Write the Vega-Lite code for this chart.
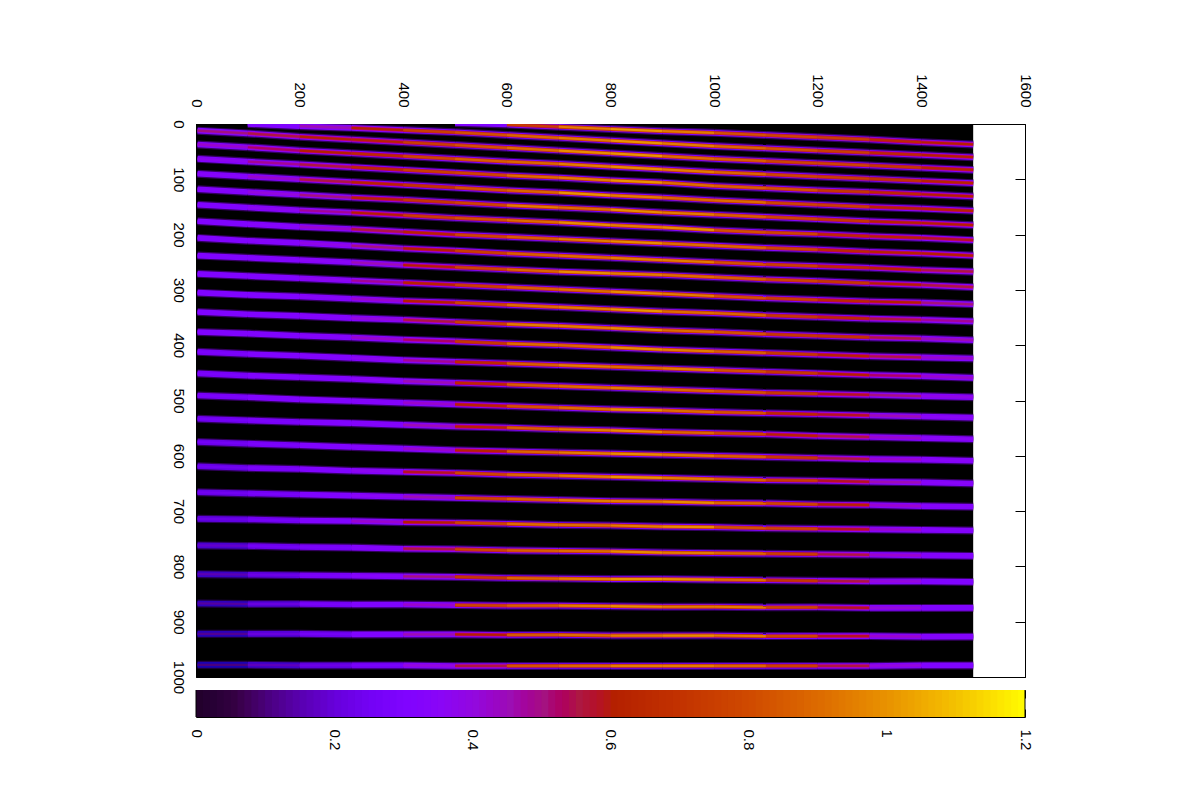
{"background":"white","bounds":"flush","padding":{"left":170,"top":73,"right":10,"bottom":10},"config":{"font":"Liberation Sans","view":{"stroke":null},"axis":{"grid":false,"title":null,"domainColor":"black","tickColor":"black","labelColor":"black","labelFont":"Liberation Sans","labelFontSize":15,"zindex":1,"domainWidth":1,"tickWidth":1}},"datasets":{"orders":[
{"o":1,"x":3,"y":12,"v":0.5},{"o":1,"x":100,"y":17,"v":0.55},{"o":1,"x":200,"y":23,"v":0.6},{"o":1,"x":300,"y":28,"v":0.62},{"o":1,"x":400,"y":33,"v":0.75},{"o":1,"x":500,"y":38,"v":0.82},{"o":1,"x":600,"y":43,"v":0.9},{"o":1,"x":700,"y":48,"v":0.98},{"o":1,"x":800,"y":53,"v":1},{"o":1,"x":900,"y":58,"v":0.9},{"o":1,"x":1000,"y":63,"v":0.86},{"o":1,"x":1100,"y":67,"v":0.78},{"o":1,"x":1200,"y":71,"v":0.78},{"o":1,"x":1300,"y":75,"v":0.72},{"o":1,"x":1400,"y":79,"v":0.62},{"o":1,"x":1500,"y":83,"v":0.58},
{"o":2,"x":3,"y":37,"v":0.42},{"o":2,"x":100,"y":42,"v":0.52},{"o":2,"x":200,"y":48,"v":0.6},{"o":2,"x":300,"y":53,"v":0.65},{"o":2,"x":400,"y":58,"v":0.78},{"o":2,"x":500,"y":63,"v":0.86},{"o":2,"x":600,"y":68,"v":0.88},{"o":2,"x":700,"y":72,"v":0.94},{"o":2,"x":800,"y":77,"v":0.98},{"o":2,"x":900,"y":82,"v":0.94},{"o":2,"x":1000,"y":87,"v":0.88},{"o":2,"x":1100,"y":91,"v":0.78},{"o":2,"x":1200,"y":95,"v":0.75},{"o":2,"x":1300,"y":99,"v":0.7},{"o":2,"x":1400,"y":103,"v":0.62},{"o":2,"x":1500,"y":107,"v":0.58},
{"o":3,"x":3,"y":63,"v":0.36},{"o":3,"x":100,"y":68,"v":0.48},{"o":3,"x":200,"y":73,"v":0.55},{"o":3,"x":300,"y":78,"v":0.65},{"o":3,"x":400,"y":83,"v":0.75},{"o":3,"x":500,"y":88,"v":0.78},{"o":3,"x":600,"y":93,"v":0.9},{"o":3,"x":700,"y":97,"v":0.94},{"o":3,"x":800,"y":102,"v":1},{"o":3,"x":900,"y":106,"v":0.9},{"o":3,"x":1000,"y":112,"v":0.86},{"o":3,"x":1100,"y":116,"v":0.82},{"o":3,"x":1200,"y":120,"v":0.72},{"o":3,"x":1300,"y":123,"v":0.65},{"o":3,"x":1400,"y":127,"v":0.6},{"o":3,"x":1500,"y":131,"v":0.55},
{"o":4,"x":3,"y":90,"v":0.33},{"o":4,"x":100,"y":95,"v":0.42},{"o":4,"x":200,"y":100,"v":0.55},{"o":4,"x":300,"y":105,"v":0.62},{"o":4,"x":400,"y":110,"v":0.7},{"o":4,"x":500,"y":115,"v":0.82},{"o":4,"x":600,"y":120,"v":0.88},{"o":4,"x":700,"y":124,"v":1},{"o":4,"x":800,"y":129,"v":0.94},{"o":4,"x":900,"y":133,"v":0.88},{"o":4,"x":1000,"y":138,"v":0.9},{"o":4,"x":1100,"y":142,"v":0.78},{"o":4,"x":1200,"y":146,"v":0.75},{"o":4,"x":1300,"y":150,"v":0.62},{"o":4,"x":1400,"y":153,"v":0.62},{"o":4,"x":1500,"y":157,"v":0.55},
{"o":5,"x":3,"y":118,"v":0.32},{"o":5,"x":100,"y":123,"v":0.4},{"o":5,"x":200,"y":128,"v":0.5},{"o":5,"x":300,"y":133,"v":0.62},{"o":5,"x":400,"y":137,"v":0.72},{"o":5,"x":500,"y":142,"v":0.78},{"o":5,"x":600,"y":147,"v":0.94},{"o":5,"x":700,"y":151,"v":0.9},{"o":5,"x":800,"y":155,"v":0.98},{"o":5,"x":900,"y":160,"v":0.94},{"o":5,"x":1000,"y":164,"v":0.86},{"o":5,"x":1100,"y":168,"v":0.78},{"o":5,"x":1200,"y":172,"v":0.72},{"o":5,"x":1300,"y":176,"v":0.62},{"o":5,"x":1400,"y":179,"v":0.6},{"o":5,"x":1500,"y":183,"v":0.55},
{"o":6,"x":3,"y":146,"v":0.3},{"o":6,"x":100,"y":151,"v":0.36},{"o":6,"x":200,"y":156,"v":0.48},{"o":6,"x":300,"y":160,"v":0.6},{"o":6,"x":400,"y":165,"v":0.75},{"o":6,"x":500,"y":170,"v":0.82},{"o":6,"x":600,"y":174,"v":0.9},{"o":6,"x":700,"y":178,"v":0.98},{"o":6,"x":800,"y":183,"v":0.94},{"o":6,"x":900,"y":187,"v":0.98},{"o":6,"x":1000,"y":192,"v":0.82},{"o":6,"x":1100,"y":196,"v":0.78},{"o":6,"x":1200,"y":199,"v":0.65},{"o":6,"x":1300,"y":203,"v":0.62},{"o":6,"x":1400,"y":206,"v":0.58},{"o":6,"x":1500,"y":210,"v":0.5},
{"o":7,"x":3,"y":176,"v":0.3},{"o":7,"x":100,"y":181,"v":0.33},{"o":7,"x":200,"y":186,"v":0.42},{"o":7,"x":300,"y":190,"v":0.55},{"o":7,"x":400,"y":195,"v":0.62},{"o":7,"x":500,"y":200,"v":0.78},{"o":7,"x":600,"y":204,"v":0.86},{"o":7,"x":700,"y":208,"v":0.94},{"o":7,"x":800,"y":212,"v":0.98},{"o":7,"x":900,"y":216,"v":0.9},{"o":7,"x":1000,"y":220,"v":0.88},{"o":7,"x":1100,"y":224,"v":0.78},{"o":7,"x":1200,"y":227,"v":0.65},{"o":7,"x":1300,"y":231,"v":0.62},{"o":7,"x":1400,"y":234,"v":0.6},{"o":7,"x":1500,"y":238,"v":0.48},
{"o":8,"x":3,"y":206,"v":0.3},{"o":8,"x":100,"y":211,"v":0.32},{"o":8,"x":200,"y":215,"v":0.38},{"o":8,"x":300,"y":220,"v":0.5},{"o":8,"x":400,"y":225,"v":0.6},{"o":8,"x":500,"y":229,"v":0.75},{"o":8,"x":600,"y":234,"v":0.86},{"o":8,"x":700,"y":238,"v":0.9},{"o":8,"x":800,"y":242,"v":0.94},{"o":8,"x":900,"y":246,"v":0.94},{"o":8,"x":1000,"y":250,"v":0.82},{"o":8,"x":1100,"y":254,"v":0.75},{"o":8,"x":1200,"y":257,"v":0.65},{"o":8,"x":1300,"y":260,"v":0.62},{"o":8,"x":1400,"y":264,"v":0.55},{"o":8,"x":1500,"y":267,"v":0.42},
{"o":9,"x":3,"y":238,"v":0.3},{"o":9,"x":100,"y":242,"v":0.31},{"o":9,"x":200,"y":246,"v":0.35},{"o":9,"x":300,"y":250,"v":0.45},{"o":9,"x":400,"y":255,"v":0.6},{"o":9,"x":500,"y":259,"v":0.78},{"o":9,"x":600,"y":263,"v":0.88},{"o":9,"x":700,"y":267,"v":0.98},{"o":9,"x":800,"y":270,"v":0.94},{"o":9,"x":900,"y":273,"v":0.9},{"o":9,"x":1000,"y":277,"v":0.86},{"o":9,"x":1100,"y":281,"v":0.78},{"o":9,"x":1200,"y":284,"v":0.72},{"o":9,"x":1300,"y":288,"v":0.6},{"o":9,"x":1400,"y":291,"v":0.55},{"o":9,"x":1500,"y":295,"v":0.4},
{"o":10,"x":3,"y":271,"v":0.3},{"o":10,"x":100,"y":275,"v":0.3},{"o":10,"x":200,"y":279,"v":0.36},{"o":10,"x":300,"y":283,"v":0.48},{"o":10,"x":400,"y":287,"v":0.62},{"o":10,"x":500,"y":291,"v":0.75},{"o":10,"x":600,"y":295,"v":0.86},{"o":10,"x":700,"y":299,"v":0.9},{"o":10,"x":800,"y":303,"v":0.98},{"o":10,"x":900,"y":307,"v":0.94},{"o":10,"x":1000,"y":311,"v":0.82},{"o":10,"x":1100,"y":315,"v":0.75},{"o":10,"x":1200,"y":318,"v":0.65},{"o":10,"x":1300,"y":321,"v":0.6},{"o":10,"x":1400,"y":323,"v":0.5},{"o":10,"x":1500,"y":326,"v":0.38},
{"o":11,"x":3,"y":305,"v":0.3},{"o":11,"x":100,"y":309,"v":0.3},{"o":11,"x":200,"y":312,"v":0.33},{"o":11,"x":300,"y":316,"v":0.42},{"o":11,"x":400,"y":320,"v":0.6},{"o":11,"x":500,"y":323,"v":0.78},{"o":11,"x":600,"y":327,"v":0.9},{"o":11,"x":700,"y":331,"v":0.94},{"o":11,"x":800,"y":335,"v":1},{"o":11,"x":900,"y":339,"v":0.9},{"o":11,"x":1000,"y":342,"v":0.88},{"o":11,"x":1100,"y":346,"v":0.72},{"o":11,"x":1200,"y":349,"v":0.65},{"o":11,"x":1300,"y":352,"v":0.55},{"o":11,"x":1400,"y":354,"v":0.48},{"o":11,"x":1500,"y":357,"v":0.36},
{"o":12,"x":3,"y":340,"v":0.3},{"o":12,"x":100,"y":344,"v":0.3},{"o":12,"x":200,"y":347,"v":0.32},{"o":12,"x":300,"y":351,"v":0.4},{"o":12,"x":400,"y":354,"v":0.55},{"o":12,"x":500,"y":358,"v":0.75},{"o":12,"x":600,"y":362,"v":0.94},{"o":12,"x":700,"y":365,"v":0.94},{"o":12,"x":800,"y":369,"v":0.98},{"o":12,"x":900,"y":373,"v":0.9},{"o":12,"x":1000,"y":376,"v":0.82},{"o":12,"x":1100,"y":380,"v":0.72},{"o":12,"x":1200,"y":383,"v":0.7},{"o":12,"x":1300,"y":386,"v":0.55},{"o":12,"x":1400,"y":388,"v":0.45},{"o":12,"x":1500,"y":391,"v":0.34},
{"o":13,"x":3,"y":376,"v":0.3},{"o":13,"x":100,"y":379,"v":0.3},{"o":13,"x":200,"y":383,"v":0.32},{"o":13,"x":300,"y":386,"v":0.42},{"o":13,"x":400,"y":390,"v":0.52},{"o":13,"x":500,"y":393,"v":0.72},{"o":13,"x":600,"y":397,"v":0.9},{"o":13,"x":700,"y":400,"v":0.88},{"o":13,"x":800,"y":404,"v":0.98},{"o":13,"x":900,"y":408,"v":0.94},{"o":13,"x":1000,"y":411,"v":0.86},{"o":13,"x":1100,"y":414,"v":0.72},{"o":13,"x":1200,"y":417,"v":0.62},{"o":13,"x":1300,"y":420,"v":0.55},{"o":13,"x":1400,"y":422,"v":0.42},{"o":13,"x":1500,"y":424,"v":0.33},
{"o":14,"x":3,"y":412,"v":0.28},{"o":14,"x":100,"y":416,"v":0.3},{"o":14,"x":200,"y":419,"v":0.31},{"o":14,"x":300,"y":423,"v":0.36},{"o":14,"x":400,"y":427,"v":0.48},{"o":14,"x":500,"y":430,"v":0.65},{"o":14,"x":600,"y":433,"v":0.86},{"o":14,"x":700,"y":436,"v":0.94},{"o":14,"x":800,"y":439,"v":0.9},{"o":14,"x":900,"y":442,"v":0.94},{"o":14,"x":1000,"y":445,"v":0.82},{"o":14,"x":1100,"y":448,"v":0.72},{"o":14,"x":1200,"y":451,"v":0.6},{"o":14,"x":1300,"y":454,"v":0.52},{"o":14,"x":1400,"y":456,"v":0.42},{"o":14,"x":1500,"y":459,"v":0.32},
{"o":15,"x":3,"y":451,"v":0.28},{"o":15,"x":100,"y":455,"v":0.3},{"o":15,"x":200,"y":458,"v":0.3},{"o":15,"x":300,"y":461,"v":0.35},{"o":15,"x":400,"y":465,"v":0.45},{"o":15,"x":500,"y":468,"v":0.65},{"o":15,"x":600,"y":471,"v":0.86},{"o":15,"x":700,"y":474,"v":0.9},{"o":15,"x":800,"y":477,"v":0.94},{"o":15,"x":900,"y":480,"v":0.88},{"o":15,"x":1000,"y":483,"v":0.82},{"o":15,"x":1100,"y":486,"v":0.72},{"o":15,"x":1200,"y":488,"v":0.58},{"o":15,"x":1300,"y":490,"v":0.5},{"o":15,"x":1400,"y":492,"v":0.38},{"o":15,"x":1500,"y":494,"v":0.3},
{"o":16,"x":3,"y":491,"v":0.28},{"o":16,"x":100,"y":494,"v":0.3},{"o":16,"x":200,"y":498,"v":0.3},{"o":16,"x":300,"y":501,"v":0.32},{"o":16,"x":400,"y":504,"v":0.42},{"o":16,"x":500,"y":507,"v":0.62},{"o":16,"x":600,"y":510,"v":0.82},{"o":16,"x":700,"y":513,"v":0.9},{"o":16,"x":800,"y":516,"v":0.98},{"o":16,"x":900,"y":518,"v":0.9},{"o":16,"x":1000,"y":521,"v":0.82},{"o":16,"x":1100,"y":523,"v":0.65},{"o":16,"x":1200,"y":525,"v":0.58},{"o":16,"x":1300,"y":527,"v":0.45},{"o":16,"x":1400,"y":529,"v":0.35},{"o":16,"x":1500,"y":531,"v":0.3},
{"o":17,"x":3,"y":533,"v":0.26},{"o":17,"x":100,"y":536,"v":0.28},{"o":17,"x":200,"y":539,"v":0.3},{"o":17,"x":300,"y":541,"v":0.32},{"o":17,"x":400,"y":544,"v":0.45},{"o":17,"x":500,"y":547,"v":0.62},{"o":17,"x":600,"y":549,"v":0.86},{"o":17,"x":700,"y":552,"v":0.94},{"o":17,"x":800,"y":554,"v":0.98},{"o":17,"x":900,"y":557,"v":0.88},{"o":17,"x":1000,"y":559,"v":0.78},{"o":17,"x":1100,"y":561,"v":0.62},{"o":17,"x":1200,"y":564,"v":0.55},{"o":17,"x":1300,"y":566,"v":0.42},{"o":17,"x":1400,"y":568,"v":0.35},{"o":17,"x":1500,"y":570,"v":0.3},
{"o":18,"x":3,"y":575,"v":0.25},{"o":18,"x":100,"y":578,"v":0.28},{"o":18,"x":200,"y":581,"v":0.3},{"o":18,"x":300,"y":584,"v":0.32},{"o":18,"x":400,"y":587,"v":0.42},{"o":18,"x":500,"y":590,"v":0.62},{"o":18,"x":600,"y":592,"v":0.88},{"o":18,"x":700,"y":594,"v":0.94},{"o":18,"x":800,"y":596,"v":0.98},{"o":18,"x":900,"y":598,"v":0.94},{"o":18,"x":1000,"y":600,"v":0.86},{"o":18,"x":1100,"y":602,"v":0.72},{"o":18,"x":1200,"y":604,"v":0.55},{"o":18,"x":1300,"y":606,"v":0.42},{"o":18,"x":1400,"y":607,"v":0.34},{"o":18,"x":1500,"y":609,"v":0.3},
{"o":19,"x":3,"y":619,"v":0.24},{"o":19,"x":100,"y":622,"v":0.28},{"o":19,"x":200,"y":624,"v":0.3},{"o":19,"x":300,"y":627,"v":0.36},{"o":19,"x":400,"y":629,"v":0.58},{"o":19,"x":500,"y":631,"v":0.78},{"o":19,"x":600,"y":634,"v":0.88},{"o":19,"x":700,"y":636,"v":0.94},{"o":19,"x":800,"y":638,"v":1},{"o":19,"x":900,"y":640,"v":0.94},{"o":19,"x":1000,"y":642,"v":0.86},{"o":19,"x":1100,"y":644,"v":0.75},{"o":19,"x":1200,"y":645,"v":0.58},{"o":19,"x":1300,"y":647,"v":0.45},{"o":19,"x":1400,"y":648,"v":0.34},{"o":19,"x":1500,"y":650,"v":0.3},
{"o":20,"x":3,"y":666,"v":0.24},{"o":20,"x":100,"y":668,"v":0.27},{"o":20,"x":200,"y":670,"v":0.3},{"o":20,"x":300,"y":672,"v":0.35},{"o":20,"x":400,"y":674,"v":0.45},{"o":20,"x":500,"y":676,"v":0.78},{"o":20,"x":600,"y":678,"v":0.86},{"o":20,"x":700,"y":680,"v":0.94},{"o":20,"x":800,"y":682,"v":0.94},{"o":20,"x":900,"y":683,"v":0.98},{"o":20,"x":1000,"y":685,"v":0.88},{"o":20,"x":1100,"y":686,"v":0.78},{"o":20,"x":1200,"y":688,"v":0.62},{"o":20,"x":1300,"y":689,"v":0.42},{"o":20,"x":1400,"y":691,"v":0.33},{"o":20,"x":1500,"y":692,"v":0.3},
{"o":21,"x":3,"y":714,"v":0.22},{"o":21,"x":100,"y":715,"v":0.26},{"o":21,"x":200,"y":717,"v":0.3},{"o":21,"x":300,"y":718,"v":0.42},{"o":21,"x":400,"y":720,"v":0.6},{"o":21,"x":500,"y":721,"v":0.78},{"o":21,"x":600,"y":723,"v":0.9},{"o":21,"x":700,"y":725,"v":0.9},{"o":21,"x":800,"y":726,"v":0.94},{"o":21,"x":900,"y":728,"v":0.98},{"o":21,"x":1000,"y":729,"v":0.82},{"o":21,"x":1100,"y":731,"v":0.78},{"o":21,"x":1200,"y":732,"v":0.58},{"o":21,"x":1300,"y":733,"v":0.42},{"o":21,"x":1400,"y":734,"v":0.32},{"o":21,"x":1500,"y":735,"v":0.3},
{"o":22,"x":3,"y":762,"v":0.18},{"o":22,"x":100,"y":763,"v":0.25},{"o":22,"x":200,"y":765,"v":0.28},{"o":22,"x":300,"y":766,"v":0.32},{"o":22,"x":400,"y":768,"v":0.55},{"o":22,"x":500,"y":769,"v":0.78},{"o":22,"x":600,"y":771,"v":0.86},{"o":22,"x":700,"y":772,"v":0.9},{"o":22,"x":800,"y":773,"v":0.98},{"o":22,"x":900,"y":775,"v":0.94},{"o":22,"x":1000,"y":776,"v":0.88},{"o":22,"x":1100,"y":777,"v":0.75},{"o":22,"x":1200,"y":778,"v":0.55},{"o":22,"x":1300,"y":779,"v":0.42},{"o":22,"x":1400,"y":780,"v":0.32},{"o":22,"x":1500,"y":781,"v":0.28},
{"o":23,"x":3,"y":814,"v":0.15},{"o":23,"x":100,"y":815,"v":0.22},{"o":23,"x":200,"y":816,"v":0.28},{"o":23,"x":300,"y":817,"v":0.33},{"o":23,"x":400,"y":818,"v":0.5},{"o":23,"x":500,"y":819,"v":0.72},{"o":23,"x":600,"y":821,"v":0.88},{"o":23,"x":700,"y":822,"v":0.94},{"o":23,"x":800,"y":823,"v":1},{"o":23,"x":900,"y":823,"v":0.98},{"o":23,"x":1000,"y":824,"v":0.9},{"o":23,"x":1100,"y":825,"v":0.72},{"o":23,"x":1200,"y":826,"v":0.55},{"o":23,"x":1300,"y":827,"v":0.4},{"o":23,"x":1400,"y":827,"v":0.3},{"o":23,"x":1500,"y":828,"v":0.28},
{"o":24,"x":3,"y":867,"v":0.13},{"o":24,"x":100,"y":868,"v":0.2},{"o":24,"x":200,"y":868,"v":0.27},{"o":24,"x":300,"y":869,"v":0.3},{"o":24,"x":400,"y":869,"v":0.42},{"o":24,"x":500,"y":870,"v":0.78},{"o":24,"x":600,"y":871,"v":0.86},{"o":24,"x":700,"y":871,"v":0.94},{"o":24,"x":800,"y":872,"v":0.98},{"o":24,"x":900,"y":873,"v":0.94},{"o":24,"x":1000,"y":873,"v":0.94},{"o":24,"x":1100,"y":874,"v":0.78},{"o":24,"x":1200,"y":874,"v":0.58},{"o":24,"x":1300,"y":875,"v":0.4},{"o":24,"x":1400,"y":875,"v":0.3},{"o":24,"x":1500,"y":875,"v":0.28},
{"o":25,"x":3,"y":922,"v":0.12},{"o":25,"x":100,"y":922,"v":0.2},{"o":25,"x":200,"y":922,"v":0.25},{"o":25,"x":300,"y":923,"v":0.3},{"o":25,"x":400,"y":923,"v":0.45},{"o":25,"x":500,"y":923,"v":0.6},{"o":25,"x":600,"y":924,"v":0.84},{"o":25,"x":700,"y":924,"v":0.9},{"o":25,"x":800,"y":925,"v":0.94},{"o":25,"x":900,"y":925,"v":0.98},{"o":25,"x":1000,"y":925,"v":0.94},{"o":25,"x":1100,"y":926,"v":0.78},{"o":25,"x":1200,"y":926,"v":0.58},{"o":25,"x":1300,"y":926,"v":0.42},{"o":25,"x":1400,"y":927,"v":0.32},{"o":25,"x":1500,"y":927,"v":0.28},
{"o":26,"x":3,"y":978,"v":0.1},{"o":26,"x":100,"y":978,"v":0.16},{"o":26,"x":200,"y":979,"v":0.22},{"o":26,"x":300,"y":979,"v":0.27},{"o":26,"x":400,"y":979,"v":0.4},{"o":26,"x":500,"y":980,"v":0.55},{"o":26,"x":600,"y":980,"v":0.82},{"o":26,"x":700,"y":980,"v":0.88},{"o":26,"x":800,"y":980,"v":0.94},{"o":26,"x":900,"y":980,"v":0.94},{"o":26,"x":1000,"y":980,"v":0.88},{"o":26,"x":1100,"y":980,"v":0.75},{"o":26,"x":1200,"y":980,"v":0.55},{"o":26,"x":1300,"y":980,"v":0.4},{"o":26,"x":1400,"y":979,"v":0.3},{"o":26,"x":1500,"y":979,"v":0.2},
{"o":101,"x":100,"y":0,"v":0.3},{"o":101,"x":200,"y":4,"v":0.45},{"o":101,"x":300,"y":7,"v":0.6},{"o":101,"x":400,"y":11,"v":0.75},{"o":101,"x":500,"y":15,"v":0.82},{"o":101,"x":600,"y":20,"v":0.88},{"o":101,"x":700,"y":25,"v":0.94},{"o":101,"x":800,"y":30,"v":1},{"o":101,"x":900,"y":35,"v":0.94},{"o":101,"x":1000,"y":40,"v":0.88},{"o":101,"x":1100,"y":44,"v":0.82},{"o":101,"x":1200,"y":48,"v":0.75},{"o":101,"x":1300,"y":52,"v":0.65},{"o":101,"x":1400,"y":56,"v":0.6},{"o":101,"x":1500,"y":60,"v":0.55},
{"o":102,"x":500,"y":-2,"v":0.3},{"o":102,"x":600,"y":1,"v":0.75},{"o":102,"x":700,"y":5,"v":0.94},{"o":102,"x":800,"y":9,"v":1},{"o":102,"x":900,"y":13,"v":0.94},{"o":102,"x":1000,"y":16,"v":0.82},{"o":102,"x":1100,"y":20,"v":0.78},{"o":102,"x":1200,"y":24,"v":0.75},{"o":102,"x":1300,"y":28,"v":0.65},{"o":102,"x":1400,"y":33,"v":0.6},{"o":102,"x":1500,"y":37,"v":0.55}
],
"bar":[{"c":0,"d":0.012},{"c":0.01,"d":0.022},{"c":0.02,"d":0.032},{"c":0.03,"d":0.042},{"c":0.04,"d":0.052},{"c":0.05,"d":0.062},{"c":0.06,"d":0.072},{"c":0.07,"d":0.082},{"c":0.08,"d":0.092},{"c":0.09,"d":0.102},{"c":0.1,"d":0.112},{"c":0.11,"d":0.122},{"c":0.12,"d":0.132},{"c":0.13,"d":0.142},{"c":0.14,"d":0.152},{"c":0.15,"d":0.162},{"c":0.16,"d":0.172},{"c":0.17,"d":0.182},{"c":0.18,"d":0.192},{"c":0.19,"d":0.202},{"c":0.2,"d":0.212},{"c":0.21,"d":0.222},{"c":0.22,"d":0.232},{"c":0.23,"d":0.242},{"c":0.24,"d":0.252},{"c":0.25,"d":0.262},{"c":0.26,"d":0.272},{"c":0.27,"d":0.282},{"c":0.28,"d":0.292},{"c":0.29,"d":0.302},{"c":0.3,"d":0.312},{"c":0.31,"d":0.322},{"c":0.32,"d":0.332},{"c":0.33,"d":0.342},{"c":0.34,"d":0.352},{"c":0.35,"d":0.362},{"c":0.36,"d":0.372},{"c":0.37,"d":0.382},{"c":0.38,"d":0.392},{"c":0.39,"d":0.402},{"c":0.4,"d":0.412},{"c":0.41,"d":0.422},{"c":0.42,"d":0.432},{"c":0.43,"d":0.442},{"c":0.44,"d":0.452},{"c":0.45,"d":0.462},{"c":0.46,"d":0.472},{"c":0.47,"d":0.482},{"c":0.48,"d":0.492},{"c":0.49,"d":0.502},{"c":0.5,"d":0.512},{"c":0.51,"d":0.522},{"c":0.52,"d":0.532},{"c":0.53,"d":0.542},{"c":0.54,"d":0.552},{"c":0.55,"d":0.562},{"c":0.56,"d":0.572},{"c":0.57,"d":0.582},{"c":0.58,"d":0.592},{"c":0.59,"d":0.602},{"c":0.6,"d":0.612},{"c":0.61,"d":0.622},{"c":0.62,"d":0.632},{"c":0.63,"d":0.642},{"c":0.64,"d":0.652},{"c":0.65,"d":0.662},{"c":0.66,"d":0.672},{"c":0.67,"d":0.682},{"c":0.68,"d":0.692},{"c":0.69,"d":0.702},{"c":0.7,"d":0.712},{"c":0.71,"d":0.722},{"c":0.72,"d":0.732},{"c":0.73,"d":0.742},{"c":0.74,"d":0.752},{"c":0.75,"d":0.762},{"c":0.76,"d":0.772},{"c":0.77,"d":0.782},{"c":0.78,"d":0.792},{"c":0.79,"d":0.802},{"c":0.8,"d":0.812},{"c":0.81,"d":0.822},{"c":0.82,"d":0.832},{"c":0.83,"d":0.842},{"c":0.84,"d":0.852},{"c":0.85,"d":0.862},{"c":0.86,"d":0.872},{"c":0.87,"d":0.882},{"c":0.88,"d":0.892},{"c":0.89,"d":0.902},{"c":0.9,"d":0.912},{"c":0.91,"d":0.922},{"c":0.92,"d":0.932},{"c":0.93,"d":0.942},{"c":0.94,"d":0.952},{"c":0.95,"d":0.962},{"c":0.96,"d":0.972},{"c":0.97,"d":0.982},{"c":0.98,"d":0.992},{"c":0.99,"d":1.002},{"c":1,"d":1.012},{"c":1.01,"d":1.022},{"c":1.02,"d":1.032},{"c":1.03,"d":1.042},{"c":1.04,"d":1.052},{"c":1.05,"d":1.062},{"c":1.06,"d":1.072},{"c":1.07,"d":1.082},{"c":1.08,"d":1.092},{"c":1.09,"d":1.102},{"c":1.1,"d":1.112},{"c":1.11,"d":1.122},{"c":1.12,"d":1.132},{"c":1.13,"d":1.142},{"c":1.14,"d":1.152},{"c":1.15,"d":1.162},{"c":1.16,"d":1.172},{"c":1.17,"d":1.182},{"c":1.18,"d":1.192},{"c":1.19,"d":1.2}]},
"vconcat":[
{"width":829,"height":553,"data":{"name":"orders"},
"transform":[{"window":[{"op":"lead","field":"x","as":"x2"},{"op":"lead","field":"y","as":"y2"}],"groupby":["o"],"sort":[{"field":"x","order":"ascending"}]},{"filter":"datum.x2 != null"}],
"resolve":{"axis":{"x":"independent","y":"independent"},"scale":{"color":"independent"}},
"layer":[
{"data":{"values":[{"a":0,"b":1500,"p":0,"q":1000}]},"mark":{"type":"rect","color":"black"},
"encoding":{"x":{"field":"a","type":"quantitative","scale":{"domain":[0,1600],"nice":false},"axis":{"orient":"top","format":"d","values":[0,200,400,600,800,1000,1200,1400,1600],"labelAngle":90,"labelAlign":"right","labelBaseline":"middle","labelPadding":29,"tickSize":-12,"labelFlush":false,"labelOverlap":false}},"x2":{"field":"b"},
"y":{"field":"p","type":"quantitative","scale":{"domain":[0,1000],"reverse":true,"nice":false},"axis":{"orient":"left","format":"d","values":[0,100,200,300,400,500,600,700,800,900,1000],"labelAngle":90,"labelAlign":"center","labelBaseline":"middle","labelPadding":28,"tickSize":-10,"labelFlush":false,"labelOverlap":false}},"y2":{"field":"q"}}},
{"mark":{"type":"rule","strokeWidth":8,"clip":true},
"encoding":{"x":{"field":"x","type":"quantitative","axis":{"orient":"bottom","values":[0,200,400,600,800,1000,1200,1400,1600],"labels":false,"tickSize":-12}},"x2":{"field":"x2"},
"y":{"field":"y","type":"quantitative","axis":{"orient":"right","values":[0,100,200,300,400,500,600,700,800,900,1000],"labels":false,"tickSize":-10}},"y2":{"field":"y2"},
"color":{"field":"v","type":"quantitative","legend":null,"scale":{"domain":[0,0.3,1.2],"range":["#000000","#34005f","#34005f"]}}}},
{"mark":{"type":"rule","strokeWidth":5.6,"clip":true},
"encoding":{"x":{"field":"x","type":"quantitative","axis":null},"x2":{"field":"x2"},"y":{"field":"y","type":"quantitative","axis":null},"y2":{"field":"y2"},
"color":{"field":"v","type":"quantitative","legend":null,"scale":{"domain":[0,0.3,1.2],"range":["#000000","#8004ff","#8004ff"]}}}},
{"mark":{"type":"rule","strokeWidth":3.8,"clip":true},
"encoding":{"x":{"field":"x","type":"quantitative","axis":null},"x2":{"field":"x2"},"y":{"field":"y","type":"quantitative","axis":null},"y2":{"field":"y2"},
"color":{"field":"v","type":"quantitative","legend":null,"scale":{"domain":[0,0.3,0.5,0.7,0.9,1.2],"range":["#000000","#8004ff","#9309dd","#ad1842","#c33300","#d04b00"]}}}},
{"mark":{"type":"rule","strokeWidth":2.2,"clip":true},
"encoding":{"x":{"field":"x","type":"quantitative","axis":null},"x2":{"field":"x2"},"y":{"field":"y","type":"quantitative","axis":null},"y2":{"field":"y2"},
"color":{"field":"v","type":"quantitative","legend":null,"scale":{"domain":[0,0.05,0.1,0.15,0.2,0.25,0.3,0.35,0.4,0.45,0.5,0.55,0.6,0.7,0.8,0.9,1,1.1,1.2],"range":["#000000","#340042","#4a0080","#5a00b4","#6801dd","#7402f6","#8004ff","#8a06f6","#9309dd","#9c0eb4","#a41280","#ad1842","#b42000","#c33300","#d04b00","#dd6c00","#e99400","#f4c400","#ffff00"]}}}}
]},
{"width":829,"height":27,"data":{"name":"bar"},
"resolve":{"axis":{"x":"independent"}},
"layer":[
{"mark":{"type":"rect","clip":true},
"encoding":{"x":{"field":"c","type":"quantitative","scale":{"domain":[0,1.2],"nice":false},"axis":{"orient":"bottom","format":"~g","values":[0,0.2,0.4,0.6,0.8,1,1.2],"labelAngle":90,"labelAlign":"left","labelBaseline":"middle","labelPadding":20,"tickSize":-8,"labelFlush":false,"labelOverlap":false}},"x2":{"field":"d"},
"y":{"datum":0,"type":"quantitative","axis":null,"scale":{"domain":[0,1],"nice":false}},"y2":{"datum":1},
"color":{"field":"c","type":"quantitative","legend":null,"scale":{"domain":[0,0.05,0.1,0.15,0.2,0.25,0.3,0.35,0.4,0.45,0.5,0.55,0.6,0.7,0.8,0.9,1,1.1,1.2],"range":["#000000","#340042","#4a0080","#5a00b4","#6801dd","#7402f6","#8004ff","#8a06f6","#9309dd","#9c0eb4","#a41280","#ad1842","#b42000","#c33300","#d04b00","#dd6c00","#e99400","#f4c400","#ffff00"]}}}},
{"data":{"values":[{"c":0},{"c":1.2}]},"mark":{"type":"rule","color":"black"},
"encoding":{"x":{"field":"c","type":"quantitative","axis":{"orient":"top","values":[0,0.2,0.4,0.6,0.8,1,1.2],"labels":false,"tickSize":-8}},"y":{"datum":0,"type":"quantitative","axis":null},"y2":{"datum":1}}}
]}
],"spacing":13}
